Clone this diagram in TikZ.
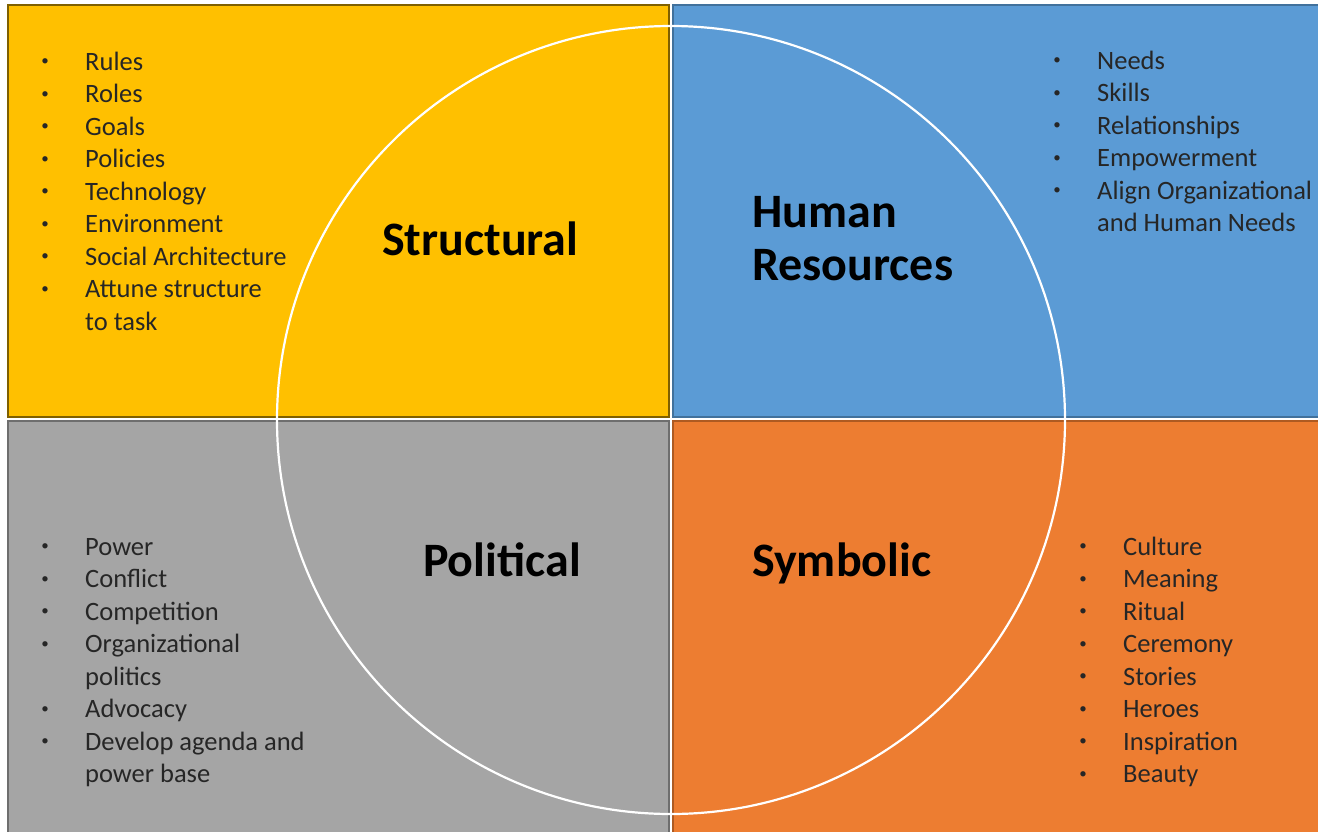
\documentclass[tikz,border=0pt]{standalone}
\usepackage{fontspec}
\setmainfont{Carlito}
\usetikzlibrary{positioning}
\definecolor{fillyellow}{HTML}{FFC000}
\definecolor{fillblue}{HTML}{5B9BD5}
\definecolor{fillgray}{HTML}{A5A5A5}
\definecolor{fillorange}{HTML}{ED7D31}
\definecolor{edgeyellow}{HTML}{7F6000}
\definecolor{edgeblue}{HTML}{41719C}
\definecolor{edgegray}{HTML}{6E6E6E}
\definecolor{edgeorange}{HTML}{AE5A21}
\definecolor{inkdark}{HTML}{262626}

\begin{document}
\begin{tikzpicture}[x=1pt,y=-1pt]
\tikzset{quad/.style={line width=2.5pt}}
\tikzset{item/.style={anchor=base west,inner sep=0pt,text=inkdark,font=\fontsize{26.5}{30}\selectfont}}
\tikzset{dot/.style={anchor=base,inner sep=0pt,text=inkdark,font=\fontsize{15}{18}\selectfont}}
\tikzset{frame/.style={anchor=base west,inner sep=0pt,text=black,font=\fontsize{48}{55}\selectfont\bfseries}}
    \useasboundingbox (0,0) rectangle (1318,831);
    \clip (0,0) rectangle (1318,831);
    \fill[white] (0,0) rectangle (1318,831);

    % four frames
    \draw[quad,fill=fillyellow,draw=edgeyellow] (8,5) rectangle (669,417);
    \draw[quad,fill=fillblue,draw=edgeblue] (673,5) rectangle (1330,417);
    \draw[quad,fill=fillgray,draw=edgegray] (8,421) rectangle (669,845);
    \draw[quad,fill=fillorange,draw=edgeorange] (673,421) rectangle (1330,845);

    \draw[white,line width=2.2pt] (671,420) circle (394pt);

    % titles
    \node[frame] (structural) at (382,255) {Structural};
    \node[frame] (human) at (752,227) {Human};
    \node[frame] (resources) at (752,280) {Resources};
    \node[frame] (political) at (423,576) {Political};
    \node[frame] (symbolic) at (752,576) {Symbolic};

    % lists
    \foreach \n/\b/\txt in {0/1/Rules,1/1/Roles,2/1/Goals,3/1/Policies,4/1/Technology,
        5/1/Environment,6/1/Social Architecture,7/1/Attune structure,8/0/to task}{
        \node[item] (st\n) at (85,{70+\n*32.5}) {\txt};
        \ifnum\b=1 \node[dot] (stb\n) at (45,{70+\n*32.5}) {\raisebox{4.5pt}{\textbullet}}; \fi
    }
    \foreach \n/\b/\txt in {0/1/Needs,1/1/Skills,2/1/Relationships,3/1/Empowerment,
        4/1/Align Organizational,5/0/and Human Needs}{
        \node[item] (hr\n) at (1097,{69+\n*32.5}) {\txt};
        \ifnum\b=1 \node[dot] (hrb\n) at (1057,{69+\n*32.5}) {\raisebox{4.5pt}{\textbullet}}; \fi
    }
    \foreach \n/\b/\txt in {0/1/Power,1/1/Conflict,2/1/Competition,3/1/Organizational,
        4/0/politics,5/1/Advocacy,6/1/Develop agenda and,7/0/power base}{
        \node[item] (po\n) at (85,{555+\n*32.5}) {\txt};
        \ifnum\b=1 \node[dot] (pob\n) at (45,{555+\n*32.5}) {\raisebox{4.5pt}{\textbullet}}; \fi
    }
    \foreach \n/\b/\txt in {0/1/Culture,1/1/Meaning,2/1/Ritual,3/1/Ceremony,4/1/Stories,
        5/1/Heroes,6/1/Inspiration,7/1/Beauty}{
        \node[item] (sy\n) at (1123,{555+\n*32.5}) {\txt};
        \ifnum\b=1 \node[dot] (syb\n) at (1083,{555+\n*32.5}) {\raisebox{4.5pt}{\textbullet}}; \fi
    }
\end{tikzpicture}
\end{document}
